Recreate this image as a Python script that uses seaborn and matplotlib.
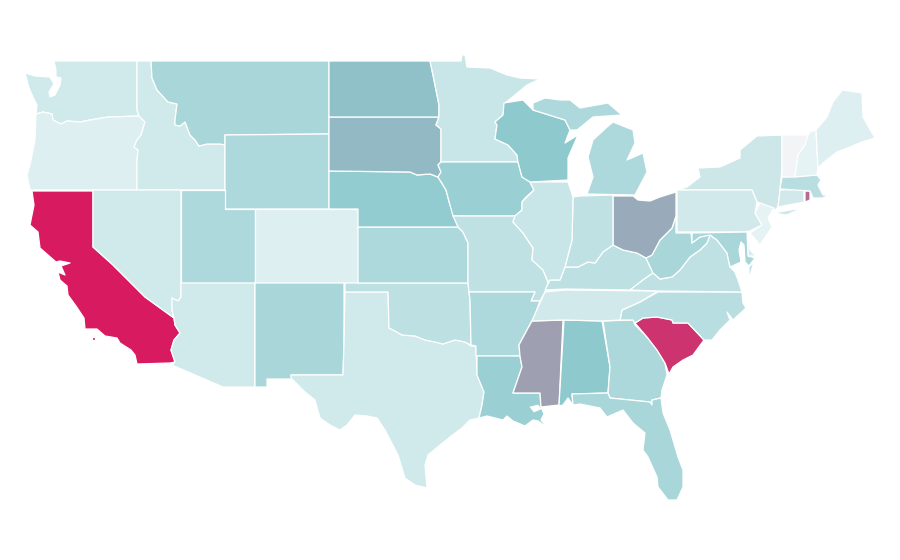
import matplotlib
matplotlib.use("Agg")
from matplotlib import pyplot as plt
from matplotlib.colors import LinearSegmentedColormap, Normalize
import seaborn as sns

# outlines, x / y on the map's own grid
WA = [(54,61),(137,61),(137,110),(139,116),(108,117),(90,120),(80,122),(67,121),(61,124),(53,120),(52,114),(43,112),(36,114),(37,105),(33,97),(29,88),(25,73),(35,76),(50,77),(54,84),(49,92),(50,97),(55,95),(60,85),(61,78),(56,77),(56,70)]
OR = [(36,114),(43,112),(52,114),(53,120),(61,124),(67,121),(80,122),(90,120),(108,117),(139,116),(145,122),(141,135),(137,140),(134,147),(138,150),(137,160),(137,190),(30,190),(27,175),(30,165),(35,140)]
ID = [(137,61),(151,61),(152,78),(157,90),(168,102),(177,104),(175,120),(175,125),(180,126),(185,122),(190,135),(195,140),(199,146),(207,144),(220,144),(225,145),(225,190),(137,190),(137,160),(138,150),(134,147),(137,140),(141,135),(145,122),(139,116),(137,110)]
MT = [(151,61),(329,61),(329,134),(225,135),(225,145),(220,144),(207,144),(199,146),(195,140),(190,135),(185,122),(180,126),(175,125),(175,120),(177,104),(168,102),(157,90),(152,78)]
WY = [(225,135),(329,134),(329,209),(225,209)]
CA = [(32,191),(93,191),(93,247),(113,265),(145,297),(174,318),(175,325),(180,333),(174,340),(171,350),(175,362),(170,363),(137,364),(135,355),(131,350),(120,343),(117,338),(105,336),(97,329),(85,329),(84,318),(76,306),(68,295),(67,286),(60,280),(58,272),(65,275),(61,266),(70,263),(60,261),(56,262),(40,248),(38,232),(30,225),(34,205)]
CA_ISLE = [(92,337),(95,337),(95,340),(92,340)]
NV = [(93,190),(181,190),(181,297),(178,301),(172,298),(172,310),(174,318),(145,297),(113,265),(93,247)]
UT = [(181,190),(225,190),(225,209),(255,209),(255,283),(181,283)]
CO = [(255,209),(358,209),(358,283),(255,283)]
AZ = [(181,283),(255,283),(255,387),(223,387),(172,365),(175,362),(171,350),(174,340),(180,333),(175,325),(174,318),(172,310),(172,298),(178,301),(181,297)]
NM = [(255,283),(344,283),(344,343),(343,375),(291,375),(292,379),(267,379),(267,387),(255,387)]
TX = [(345,292),(388,292),(389,328),(395,331),(402,335),(415,336),(425,340),(435,342),(443,344),(455,340),(465,342),(471,346),(476,346),(477,375),(484,392),(482,405),(479,418),(470,420),(462,428),(450,437),(440,445),(428,455),(425,465),(427,488),(415,485),(405,478),(398,455),(385,430),(377,418),(367,416),(355,415),(347,425),(340,430),(330,425),(320,418),(315,400),(305,392),(291,378),(291,375),(343,375),(344,343)]
OK = [(345,283),(468,283),(470,300),(471,345),(465,342),(455,340),(443,344),(435,342),(425,340),(415,336),(402,335),(395,331),(389,328),(388,292),(345,292)]
KS = [(358,227),(458,227),(463,232),(468,243),(468,283),(358,283)]
NE = [(329,171),(410,172),(417,175),(430,174),(438,177),(446,190),(450,205),(455,215),(458,227),(358,227),(358,209),(329,209)]
SD = [(329,117),(439,117),(436,125),(441,129),(441,162),(438,165),(441,172),(438,177),(430,174),(417,175),(410,172),(329,171)]
ND = [(329,61),(430,61),(433,75),(436,90),(439,105),(439,117),(329,117)]
MN = [(430,61),(461,61),(462,55),(465,55),(467,67),(490,68),(507,75),(520,78),(540,79),(527,85),(515,95),(505,103),(503,115),(495,122),(497,125),(495,139),(508,145),(517,155),(518,162),(441,162),(441,129),(436,125),(439,117),(439,105),(436,90),(433,75)]
IA = [(441,162),(518,162),(522,177),(530,182),(534,190),(525,198),(522,202),(522,210),(515,216),(453,216),(450,205),(446,190),(438,177),(441,172),(438,165)]
MO = [(453,216),(515,216),(513,222),(523,233),(533,248),(532,260),(543,270),(548,282),(546,290),(540,301),(531,301),(535,292),(469,292),(468,283),(468,243),(463,232),(458,227)]
AR = [(469,292),(535,292),(531,301),(540,301),(535,315),(527,330),(519,345),(520,356),(476,356),(476,346),(471,345),(470,300)]
LA = [(477,356),(520,356),(522,367),(513,393),(540,393),(541,407),(544,414),(541,420),(548,428),(538,421),(533,420),(525,426),(513,421),(507,416),(503,420),(487,416),(483,417),(479,418),(482,405),(484,392),(477,375)]
MS = [(532,321),(563,320),(559,405),(541,407),(540,393),(513,393),(522,367),(520,356),(519,345),(527,330)]
AL = [(564,320),(602,321),(610,367),(608,393),(572,394),(573,405),(568,398),(563,405),(559,406)]
GA = [(603,321),(633,320),(635,325),(647,337),(657,350),(665,363),(667,375),(662,390),(661,398),(652,400),(652,405),(650,402),(610,398),(608,393),(610,367)]
FL = [(572,394),(608,393),(610,398),(650,402),(652,405),(652,400),(661,398),(663,413),(670,430),(678,457),(683,470),(683,487),(677,500),(668,500),(658,487),(657,477),(648,457),(643,450),(645,433),(633,423),(623,410),(607,417),(600,408),(580,404),(573,405)]
SC = [(635,323),(643,318),(657,317),(672,320),(673,323),(688,323),(704,340),(693,355),(683,360),(673,367),(669,374),(665,363),(657,350),(647,337)]
NC = [(658,292),(742,292),(743,303),(746,308),(733,320),(727,312),(730,320),(720,330),(712,340),(704,340),(688,323),(673,323),(672,320),(657,317),(643,318),(635,323),(633,320),(620,320),(622,310),(640,302)]
TN = [(545,292),(565,290),(658,291),(640,302),(622,310),(620,320),(602,321),(564,320),(532,321),(538,307)]
KY = [(545,290),(565,289),(630,290),(643,280),(653,273),(646,258),(637,253),(623,250),(613,245),(603,252),(595,263),(588,262),(578,267),(565,267),(560,280),(550,280)]
VA = [(630,290),(658,291),(742,292),(738,280),(735,272),(730,267),(727,253),(717,240),(710,235),(707,243),(700,250),(690,257),(680,270),(672,277),(660,279),(653,273),(643,280)]
VA_SHORE = [(749,267),(754,262),(749,279)]
WV = [(646,258),(652,255),(660,240),(672,228),(676,216),(676,233),(691,233),(692,243),(700,237),(708,235),(710,235),(707,243),(700,250),(690,257),(680,270),(672,277),(660,279),(653,273)]
OH = [(613,196),(633,196),(638,200),(650,201),(660,197),(676,192),(676,216),(672,228),(660,240),(652,255),(646,258),(637,253),(623,250),(613,245),(613,233)]
IN = [(573,197),(580,196),(613,195),(613,245),(603,252),(595,263),(588,262),(578,267),(565,267),(572,240)]
IL = [(530,182),(568,182),(573,197),(572,240),(565,267),(560,280),(550,280),(548,282),(543,270),(532,260),(533,248),(523,233),(513,222),(515,216),(522,210),(522,202),(534,190)]
WI = [(504,103),(523,100),(533,110),(565,120),(570,130),(565,143),(578,135),(568,158),(568,180),(530,182),(522,177),(518,162),(517,155),(508,145),(495,139),(497,125),(495,122),(503,115)]
MI_UP = [(533,110),(533,103),(545,98),(560,100),(570,100),(580,108),(608,103),(622,115),(593,117),(577,130),(570,130),(565,120)]
MI_LOW = [(613,122),(633,130),(635,143),(627,160),(643,153),(647,172),(635,195),(587,194),(593,177),(588,157),(593,140),(607,127)]
NY = [(677,190),(687,187),(700,177),(698,168),(720,167),(740,158),(740,150),(757,136),(782,135),(782,167),(780,190),(778,207),(775,210),(757,202),(752,190),(687,190)]
LI = [(773,213),(802,208),(787,215)]
PA = [(677,190),(752,190),(757,202),(755,213),(762,225),(748,232),(677,232)]
NJ = [(760,203),(774,208),(768,218),(772,227),(760,245),(750,233),(762,225),(755,213)]
DE = [(747,231),(750,250),(756,256),(748,256)]
MD = [(692,233),(747,232),(748,256),(755,258),(749,266),(745,262),(744,245),(741,242),(739,250),(741,262),(730,267),(727,253),(717,240),(710,235),(700,237),(692,243)]
CT = [(780,190),(804,189),(804,202),(778,207)]
RI = [(805,191),(810,191),(810,200),(805,202)]
MA = [(782,177),(817,175),(821,180),(818,185),(823,195),(830,195),(822,198),(813,198),(810,191),(780,189)]
VT = [(782,135),(808,135),(805,145),(798,155),(795,177),(782,177),(782,167)]
NH = [(810,132),(816,130),(818,168),(817,175),(795,177),(798,155),(805,145),(808,135)]
ME = [(816,130),(827,117),(833,102),(840,93),(842,90),(862,93),(863,117),(875,138),(862,142),(850,147),(837,152),(823,163),(818,168)]
PONTCHARTRAIN = [(530,407),(538,405),(541,409),(534,412)]

SHAPES = [WA, OR, ID, MT, WY, CA, CA_ISLE, NV, UT, CO, AZ, NM, TX, OK, KS, NE, SD, ND, MN, IA, MO, AR, LA, MS, AL, GA, FL, SC, NC, TN, KY, VA, VA_SHORE, WV, OH, IN, IL, WI, MI_UP, MI_LOW, NY, LI, PA, NJ, DE, MD, CT, RI, MA, VT, NH, ME]
VALUES = [10.5, 7, 10.5, 22, 20, 100, 100, 10.5, 20, 7, 10.5, 22, 10.5, 16, 20, 28.5, 36, 33.5, 12.5, 26, 15, 20, 26, 47, 30, 21, 22, 90, 17, 10, 16, 15, 15, 22, 42, 15, 12.5, 30, 20, 20, 11, 11, 10, 4, 8, 22, 10, 68, 17, 0, 4, 7]

sns.set_theme(style="white")
stops = [(0.0, "#f3f4f6"), (0.04, "#e5f3f4"), (0.07, "#dceef1"), (0.105, "#cfe8ea"), (0.3, "#8cc9cd"), (1.0, "#d81b60")]
cmap = LinearSegmentedColormap.from_list("scale", stops)
norm = Normalize(0, 100)

fig = plt.figure(figsize=(9, 5.6), dpi=100)
ax = fig.add_axes([0, 0, 1, 1])

for shape, value in zip(SHAPES, VALUES):
    xs, ys = zip(*shape)
    ax.fill(xs, ys, facecolor=cmap(norm(value)), edgecolor="white", linewidth=0.9, joinstyle="round")

xs, ys = zip(*PONTCHARTRAIN)
ax.fill(xs, ys, facecolor="white", edgecolor="white", linewidth=0.5)

ax.set_xlim(0, 900)
ax.set_ylim(560, 0)
ax.axis("off")
plt.savefig("out.png", dpi=100)
